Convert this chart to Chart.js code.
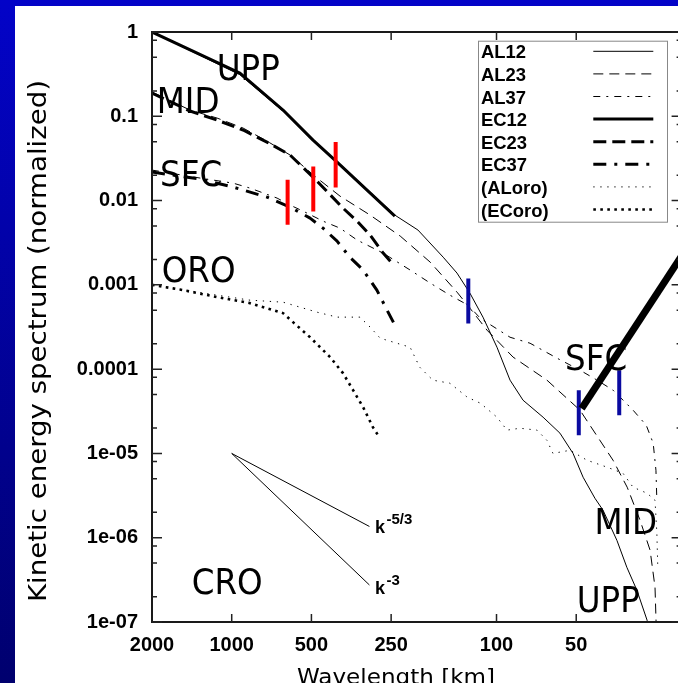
<!DOCTYPE html>
<html><head><meta charset="utf-8">
<script src="https://cdn.jsdelivr.net/npm/chart.js@4.4.1/dist/chart.umd.min.js"></script>
<style>
html,body{margin:0;padding:0;width:678px;height:683px;overflow:hidden;}
body{background:linear-gradient(to bottom,#0303c8 0%,#00006e 100%);position:relative;}
#wrap{position:absolute;left:15px;top:6px;width:690px;height:677px;background:#fff;}
canvas{display:block;}
</style></head><body>
<div id="wrap"><canvas id="c" width="690" height="677" style="width:690px;height:677px"></canvas></div>
<script>
// ---------- axis ticks ----------
const xTickValues = [2000, 1000, 500, 250, 100, 50];
const yDecades = [1, 0.1, 0.01, 0.001, 1e-4, 1e-5, 1e-6, 1e-7];
const yTickLabels = ['1', '0.1', '0.01', '0.001', '0.0001', '1e-05', '1e-06', '1e-07'];
const yMinorFactors = [0.8, 0.5, 0.2];
const xTitle = 'Wavelength [km]';
const yTitle = 'Kinetic energy spectrum (normalized)';

// ---------- series (wavelength km, normalized KE) ----------
const seriesNames = ['AL12', 'AL23', 'AL37', 'EC12', 'EC23', 'EC37', '(ALoro)', '(ECoro)'];

const al12Wavelength = [2000, 931, 639, 493, 401, 242, 198, 159, 141, 126, 112.5, 99.6, 88.9, 79.4, 66.7, 57.6, 51.4, 47.1, 42.5, 39.6, 35.1, 32.2, 29.5, 27.0, 25.0];
const al12Energy = [1, 0.311, 0.1144, 0.0508, 0.0294, 0.00672, 0.00447, 0.00213, 0.00138, 0.000797, 0.000414, 0.000182, 7.4e-5, 4.28e-5, 2.69e-5, 1.74e-5, 1.0e-5, 5.22e-6, 2.94e-6, 2.12e-6, 9.3e-7, 4.46e-7, 2.38e-7, 1.05e-7, 3e-8];

const al23Wavelength = [2000, 1437, 1136, 906, 736, 602, 476, 390, 300, 231, 178, 141, 126, 108.6, 86.6, 64.5, 48.4, 36.3, 32.1, 28.7, 26.3, 25.2, 24.8];
const al23Energy = [0.194, 0.1186, 0.0953, 0.0725, 0.0508, 0.0347, 0.0185, 0.0113, 0.00672, 0.00379, 0.00186, 0.00082, 0.000529, 0.00029, 0.000139, 7.4e-5, 3.26e-5, 8.3e-6, 3.97e-6, 1.61e-6, 7.1e-7, 2.58e-7, 5e-8];

const al37Wavelength = [2000, 1317, 988, 853, 674, 602, 538, 452, 390, 336, 268, 212, 178, 150, 128, 115, 88.9, 74.7, 59.1, 48.4, 41.7, 36.3, 30.5, 27.2, 25.6, 25.0, 24.8];
const al37Energy = [0.0230, 0.0185, 0.0161, 0.01406, 0.0107, 0.00884, 0.0075, 0.0057, 0.00471, 0.0034, 0.00238, 0.0015, 0.00105, 0.000755, 0.000574, 0.0004, 0.000239, 0.000203, 0.000135, 9.72e-5, 7.4e-5, 5.63e-5, 3.26e-5, 2.16e-5, 1.32e-5, 6.32e-6, 2.78e-6];

const ec12Wavelength = [2000, 931, 640, 493, 400, 242];
const ec12Energy = [1, 0.326, 0.1186, 0.0522, 0.0286, 0.00654];

const ec23Wavelength = [2000, 1437, 1136, 906, 736, 602, 476, 380, 336, 300, 268, 244];
const ec23Energy = [0.189, 0.1154, 0.0902, 0.0687, 0.0494, 0.0347, 0.0170, 0.00814, 0.0057, 0.00389, 0.00238, 0.00171];

const ec37Wavelength = [2000, 1317, 988, 736, 602, 506, 452, 400, 358, 319, 283, 259, 242];
const ec37Energy = [0.0218, 0.0180, 0.01445, 0.0110, 0.00837, 0.00619, 0.00471, 0.0033, 0.00213, 0.0015, 0.000866, 0.000501, 0.000333];

const aloroWavelength = [2000, 1136, 853, 640, 476, 400, 328, 300, 275, 212, 195, 174, 150, 129, 115, 99.6, 91.3, 81.5, 70.3, 64.5, 61.2, 52.8, 45.5, 38.2, 33.3, 30.5, 27.0, 25.2, 24.8, 24.6];
const aloroEnergy = [0.001, 0.000755, 0.000658, 0.000623, 0.000474, 0.000414, 0.000414, 0.000315, 0.000233, 0.000182, 0.0001055, 7.4e-5, 6.81e-5, 4.65e-5, 3.94e-5, 2.69e-5, 1.89e-5, 1.99e-5, 1.89e-5, 1.43e-5, 1.0e-5, 1.09e-5, 8.3e-6, 6.86e-6, 5.82e-6, 3.97e-6, 3.37e-6, 2.78e-6, 1.13e-6, 4.46e-7];

const ecoroWavelength = [2000, 1527, 1136, 853, 640, 587, 506, 425, 380, 348, 319, 293, 280];
const ecoroEnergy = [0.001, 0.000866, 0.000715, 0.000607, 0.000462, 0.000361, 0.000239, 0.000139, 8.96e-5, 5.63e-5, 3.54e-5, 2.05e-5, 1.64e-5];

// reference slopes
const refWavelength = [1000, 302];
const refK53Energy = [1e-5, 1.36e-6];
const refK3Energy = [1e-5, 2.75e-7];
const steepWavelength = [47.7, 20];
const steepEnergy = [3.41e-5, 2.2e-3];

// marker bars
const redBarWavelength = [615, 492, 405];
const redBarTop = [0.01765, 0.02543, 0.0494];
const redBarBottom = [0.00516, 0.00744, 0.01434];
const blueBarWavelength = [127.8, 48.9, 34.4];
const blueBarTop = [0.001192, 5.63e-5, 9.72e-5];
const blueBarBottom = [0.000348, 1.64e-5, 2.84e-5];

// annotations
const regionLabels = ['UPP', 'MID', 'SFC', 'ORO', 'CRO', 'SFC', 'MID', 'UPP'];
const regionLabelWavelength = [1139, 1920, 1865, 1838, 1416, 55.1, 42.7, 49.8];
const regionLabelEnergy = [0.2716, 0.1093, 0.01474, 0.001086, 2.17e-7, 9.72e-5, 1.12e-6, 1.31e-7];
const slopeLabelExponents = ['-5/3', '-3'];
const slopeLabelWavelength = [287.6, 287.6];
const slopeLabelEnergy = [1.13e-6, 2.17e-7];

// ---------- build datasets ----------
const pts = (xs, ys) => xs.map((x, i) => ({ x: x, y: ys[i] }));
const styles = [
  { w: 1, dash: [] },
  { w: 1, dash: [10, 6] },
  { w: 1, dash: [7, 6, 2, 6] },
  { w: 3, dash: [] },
  { w: 3, dash: [13, 6] },
  { w: 3, dash: [13, 8, 3, 8] },
  { w: 1, dash: [1.3, 5.7] },
  { w: 2.6, dash: [2.6, 4.4] }
];
const seriesData = [
  [al12Wavelength, al12Energy], [al23Wavelength, al23Energy], [al37Wavelength, al37Energy],
  [ec12Wavelength, ec12Energy], [ec23Wavelength, ec23Energy], [ec37Wavelength, ec37Energy],
  [aloroWavelength, aloroEnergy], [ecoroWavelength, ecoroEnergy]
];
const datasets = [];
seriesData.forEach((s, i) => {
  datasets.push({
    label: seriesNames[i], data: pts(s[0], s[1]), showLine: true, pointRadius: 0,
    borderColor: '#000', backgroundColor: '#000', borderWidth: styles[i].w, borderDash: styles[i].dash,
    borderCapStyle: 'butt', borderJoinStyle: 'round', tension: 0, fill: false, order: 5, isSeries: true
  });
});
const extraLine = (data, color, w, order) => ({ label: '', data: data, showLine: true, pointRadius: 0,
  borderColor: color, backgroundColor: color, borderWidth: w, borderCapStyle: 'butt', tension: 0, fill: false, order: order });
datasets.push(extraLine(pts(refWavelength, refK53Energy), '#000', 1, 5));
datasets.push(extraLine(pts(refWavelength, refK3Energy), '#000', 1, 5));
redBarWavelength.forEach((w, i) => datasets.push(extraLine([{ x: w, y: redBarBottom[i] }, { x: w, y: redBarTop[i] }], '#ff0000', 4, 2)));
blueBarWavelength.forEach((w, i) => datasets.push(extraLine([{ x: w, y: blueBarBottom[i] }, { x: w, y: blueBarTop[i] }], '#0a0aa0', 4, 2)));
datasets.push(extraLine(pts(steepWavelength, steepEnergy), '#000', 7, 1));

// ---------- decorations plugin ----------
function drawText(ctx, s, x, y, font, o) {
  o = o || {};
  ctx.save();
  ctx.font = font; ctx.fillStyle = o.color || '#000';
  ctx.textAlign = o.align || 'left'; ctx.textBaseline = o.baseline || 'alphabetic';
  ctx.translate(x, y);
  if (o.rot) ctx.rotate(o.rot);
  let sx = o.sx || 1;
  if (o.width) sx = o.width / ctx.measureText(s).width;
  ctx.scale(sx, 1);
  ctx.fillText(s, 0, 0);
  ctx.restore();
}
const deco = {
  id: 'deco',
  afterDatasetsDraw(chart) {
    const ctx = chart.ctx, a = chart.chartArea, xs = chart.scales.x, ys = chart.scales.y;
    ctx.save();
    // frame
    ctx.strokeStyle = '#1a1a1a'; ctx.lineWidth = 2;
    ctx.strokeRect(a.left, a.top, a.right - a.left, a.bottom - a.top);
    // ticks
    ctx.lineWidth = 1.5; ctx.strokeStyle = '#222';
    ctx.beginPath();
    xTickValues.forEach(v => {
      if (v === xs.max) return;
      const p = xs.getPixelForValue(v);
      ctx.moveTo(p, a.bottom); ctx.lineTo(p, a.bottom - 8);
      ctx.moveTo(p, a.top); ctx.lineTo(p, a.top + 8);
    });
    yDecades.forEach(d => {
      const p = ys.getPixelForValue(d);
      ctx.moveTo(a.left, p); ctx.lineTo(a.left + 10, p);
      ctx.moveTo(a.right, p); ctx.lineTo(a.right - 10, p);
      yMinorFactors.forEach(f => {
        const v = d * f;
        if (v < ys.min) return;
        const q = ys.getPixelForValue(v);
        ctx.moveTo(a.left, q); ctx.lineTo(a.left + 5, q);
        ctx.moveTo(a.right, q); ctx.lineTo(a.right - 5, q);
      });
    });
    ctx.stroke();
    // region labels
    regionLabels.forEach((s, i) => {
      drawText(ctx, s, xs.getPixelForValue(regionLabelWavelength[i]), ys.getPixelForValue(regionLabelEnergy[i]),
        '35px "DejaVu Sans"', { sx: 0.93 });
    });
    // slope labels
    slopeLabelExponents.forEach((e, i) => {
      const x = xs.getPixelForValue(slopeLabelWavelength[i]), y = ys.getPixelForValue(slopeLabelEnergy[i]);
      drawText(ctx, 'k', x, y, 'bold 18px "Liberation Sans"');
      drawText(ctx, e, x + 11.5, y - 9, 'bold 15px "Liberation Sans"');
    });
    // legend
    const lx = 463, ly = 34.7, lw = 189, lh = 181;
    ctx.fillStyle = '#fff'; ctx.fillRect(lx, ly, lw, lh);
    ctx.strokeStyle = '#888'; ctx.lineWidth = 1; ctx.setLineDash([]);
    ctx.strokeRect(lx + 0.5, ly + 0.5, lw, lh);
    chart.data.datasets.filter(d => d.isSeries).forEach((d, i) => {
      const base = 52.3 + i * 22.6;
      drawText(ctx, d.label, 466, base, 'bold 19px "Liberation Sans"', { sx: 0.97 });
      ctx.save();
      ctx.strokeStyle = d.borderColor; ctx.lineWidth = d.borderWidth; ctx.setLineDash(d.borderDash);
      ctx.beginPath(); ctx.moveTo(578.3, base - 7); ctx.lineTo(638.3, base - 7); ctx.stroke();
      ctx.restore();
    });
    // axis titles
    drawText(ctx, yTitle, 25, 335, '24px "DejaVu Sans"', { rot: -Math.PI / 2, align: 'center', baseline: 'middle', width: 522 });
    drawText(ctx, xTitle, 381, 678, '21px "DejaVu Sans"', { align: 'center', width: 198 });
    ctx.restore();
  }
};

const tickFont = { family: 'Liberation Sans', size: 20, weight: 'bold' };
new Chart(document.getElementById('c'), {
  type: 'scatter',
  data: { datasets: datasets },
  plugins: [deco],
  options: {
    responsive: false, animation: false, devicePixelRatio: 1,
    layout: { padding: { top: 26, right: 23.4, left: 0, bottom: 0 } },
    plugins: { legend: { display: false }, tooltip: { enabled: false } },
    scales: {
      x: {
        type: 'logarithmic', reverse: true, min: 20, max: 2000,
        afterBuildTicks: s => { s.ticks = xTickValues.map(v => ({ value: v })); },
        afterFit: s => { s.height = 61; },
        ticks: { font: tickFont, color: '#000', padding: 11, autoSkip: false, maxRotation: 0, callback: v => String(v) },
        grid: { display: true, drawOnChartArea: false, drawTicks: false, color: 'rgba(0,0,0,0)' },
        border: { display: false }
      },
      y: {
        type: 'logarithmic', min: 1e-7, max: 1,
        afterBuildTicks: s => { s.ticks = yDecades.map(v => ({ value: v })); },
        afterFit: s => { s.width = 137; },
        ticks: { font: tickFont, color: '#000', padding: 14, autoSkip: false,
          callback: v => { const i = yDecades.findIndex(d => Math.abs(Math.log10(d) - Math.log10(v)) < 1e-6); return i >= 0 ? yTickLabels[i] : ''; } },
        grid: { display: true, drawOnChartArea: false, drawTicks: false, color: 'rgba(0,0,0,0)' },
        border: { display: false }
      }
    }
  }
});
</script>
</body></html>
